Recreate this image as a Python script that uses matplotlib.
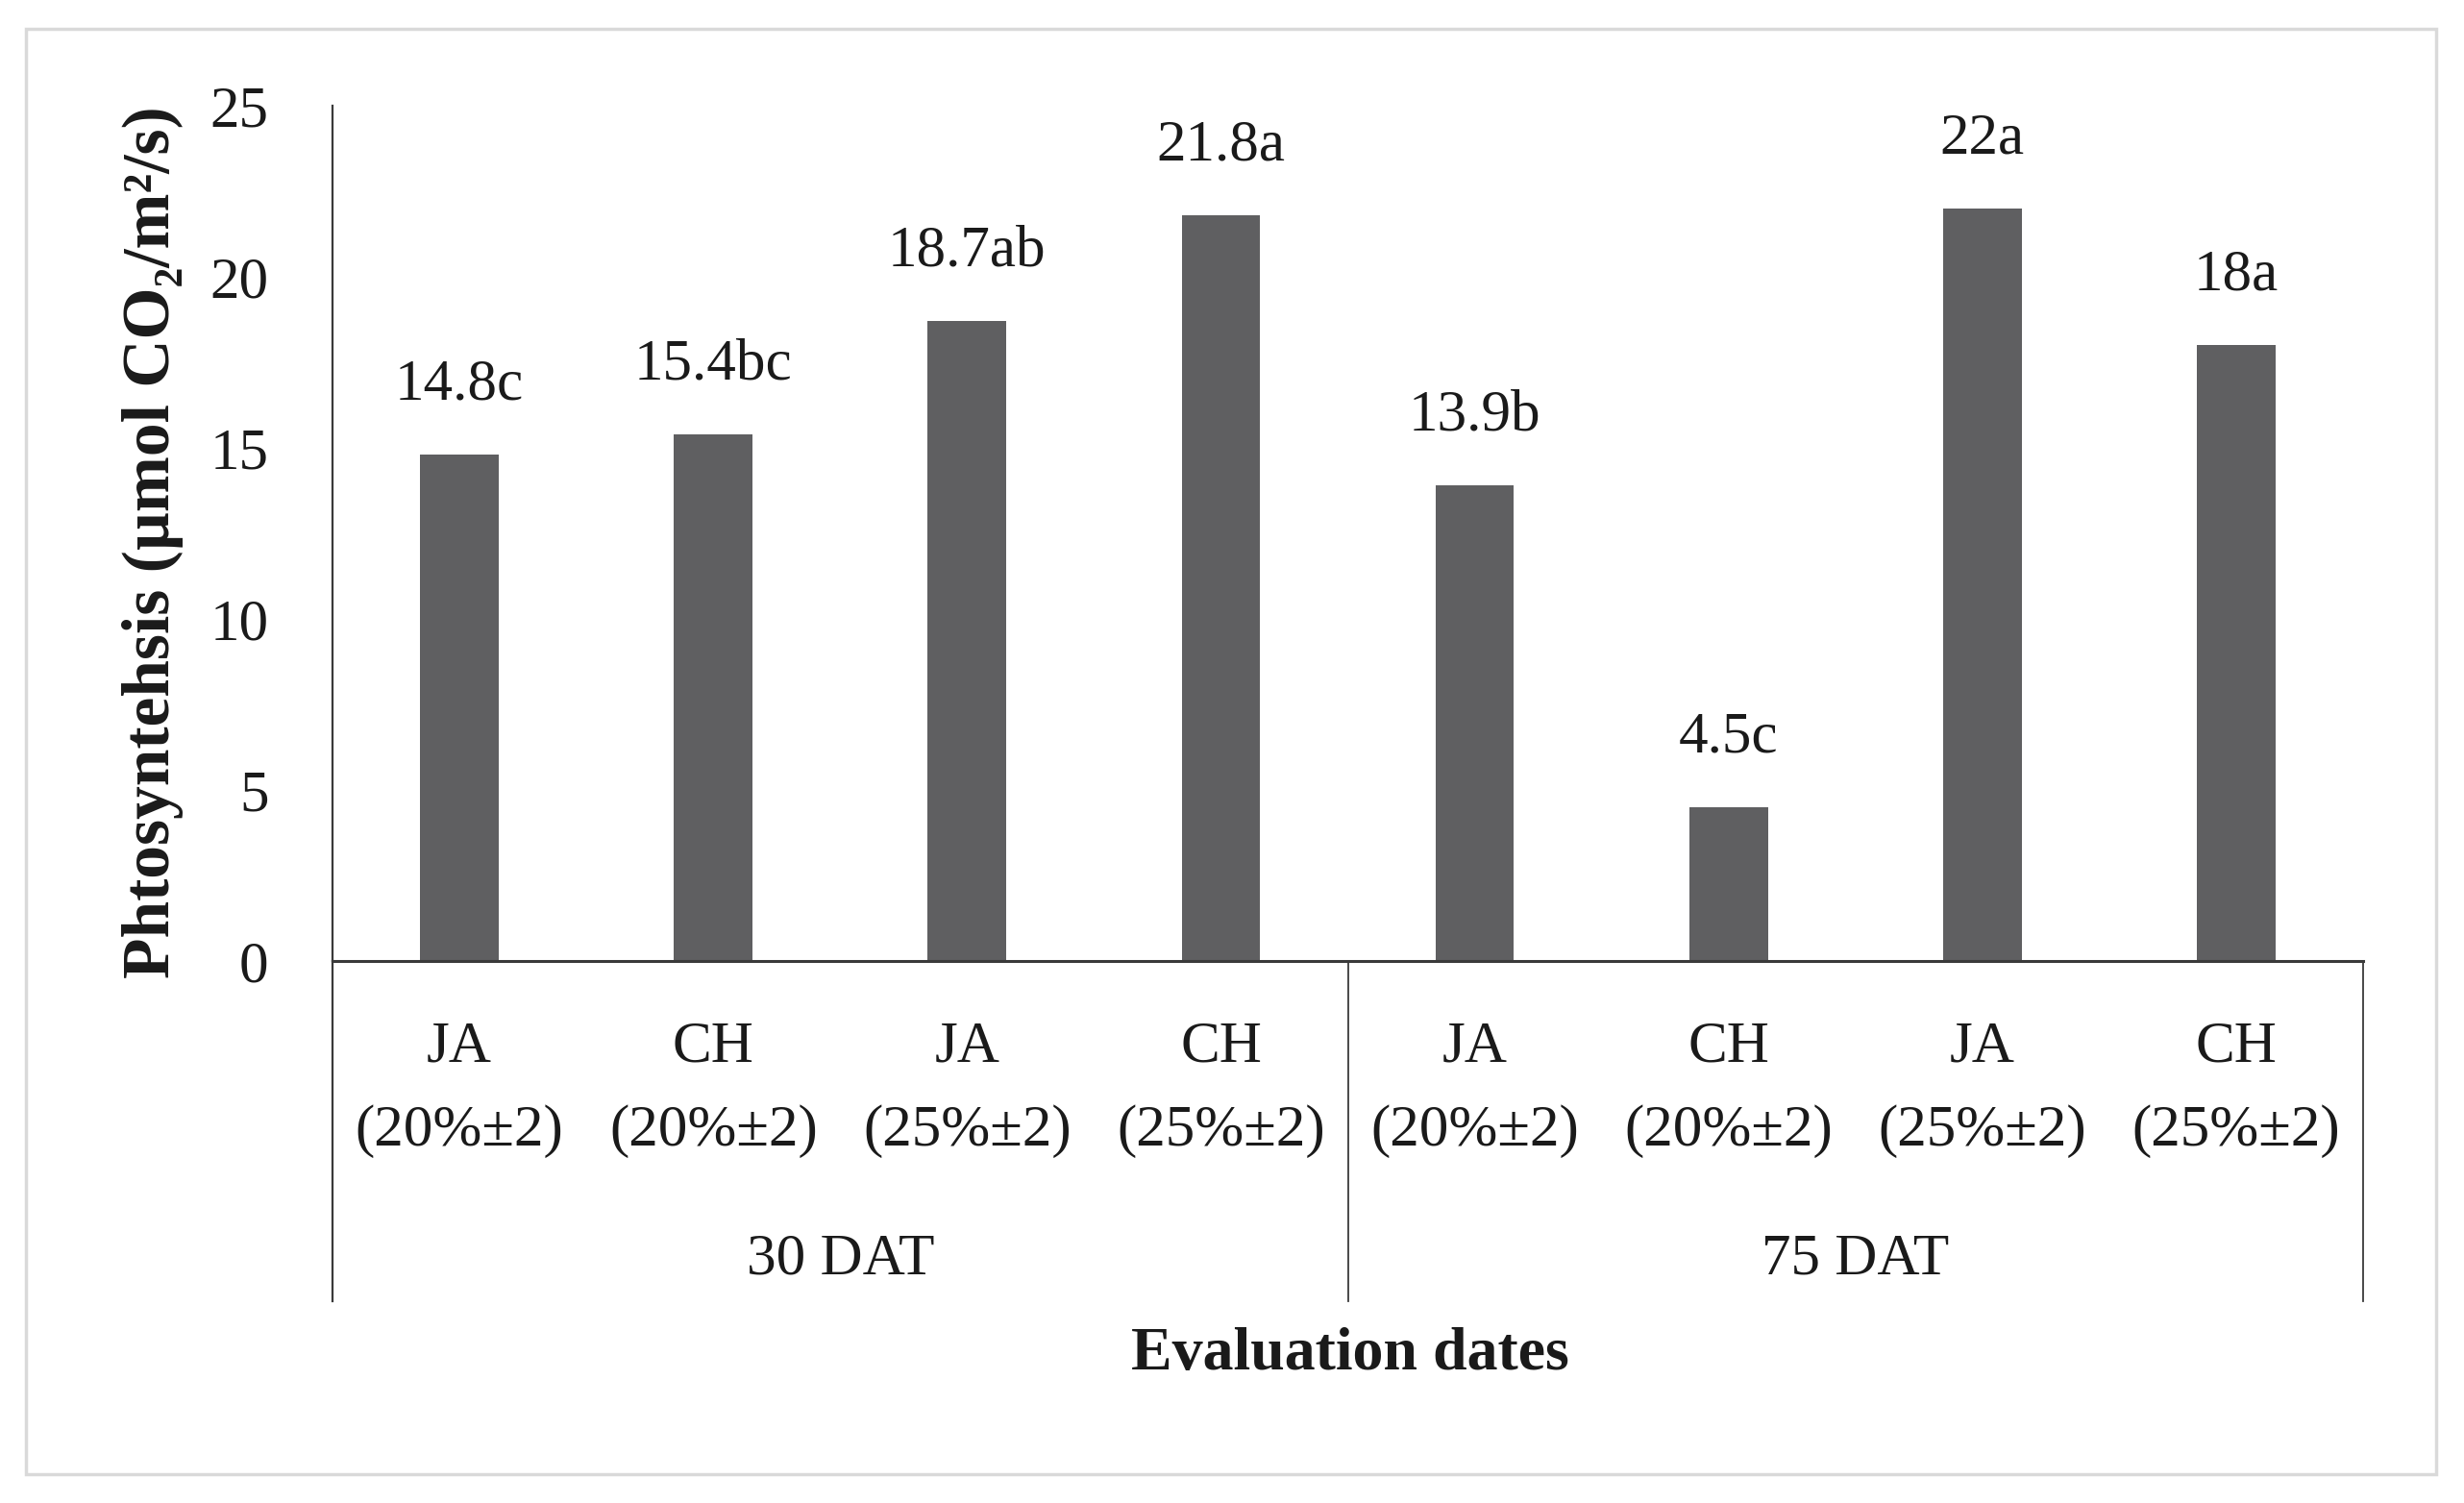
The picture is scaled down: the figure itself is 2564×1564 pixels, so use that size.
import matplotlib
matplotlib.use("Agg")
import matplotlib.pyplot as plt
from matplotlib.patches import Rectangle
from matplotlib.transforms import blended_transform_factory

plt.rcParams["font.family"] = ["Liberation Serif", "DejaVu Serif"]

# data
treatments = ["JA", "CH", "JA", "CH", "JA", "CH", "JA", "CH"]
doses = ["(20%±2)", "(20%±2)", "(25%±2)", "(25%±2)",
         "(20%±2)", "(20%±2)", "(25%±2)", "(25%±2)"]
dates = ["30 DAT", "75 DAT"]
values = [14.8, 15.4, 18.7, 21.8, 13.9, 4.5, 22, 18]
letters = ["c", "bc", "ab", "a", "b", "c", "a", "a"]
yticks = [0, 5, 10, 15, 20, 25]

BAR = "#5f5f61"
LINE = "#3a3a3a"
FS = 44

fig = plt.figure(figsize=(25.64, 15.64), dpi=100)
fig.patch.set_facecolor("white")
fig.patches.append(Rectangle((0.0105, 0.019), 0.978, 0.962, transform=fig.transFigure,
                             fill=False, edgecolor="#d9d9d9", linewidth=2.5))

ax = fig.add_axes([0.135, 0.3606, 0.824, 0.5691])
x = list(range(len(values)))
ax.bar(x, values, width=0.31, color=BAR, zorder=2)

for xi, v, l in zip(x, values, letters):
    lab = f"{v:g}{l}"
    ax.annotate(lab, (xi, v), xytext=(0, 52), textcoords="offset points",
                ha="center", va="center", fontsize=FS, color="#1a1a1a")

ax.set_xlim(-0.5, 7.5)
ax.set_ylim(0, 25)
ax.set_yticks(yticks)
ax.set_yticklabels([str(t) for t in yticks], fontsize=FS, color="#1a1a1a")
ax.tick_params(axis="y", length=0, pad=48)
ax.set_xticks([])

for s in ["top", "right"]:
    ax.spines[s].set_visible(False)
ax.spines["left"].set_linewidth(1.6)
ax.spines["left"].set_color(LINE)
ax.spines["bottom"].set_linewidth(2.2)
ax.spines["bottom"].set_color(LINE)

# group separators below the axis
tr = blended_transform_factory(ax.transData, ax.transAxes)
ax.plot([-0.5, -0.5], [-0.398, 0], transform=tr, color=LINE, lw=1.6, clip_on=False)
for sx in [3.5, 7.5]:
    ax.plot([sx, sx], [-0.398, 0], transform=tr, color=LINE, lw=1.3, clip_on=False)

for xi, t, d in zip(x, treatments, doses):
    ax.text(xi, -0.101, t, transform=tr, ha="center", va="center", fontsize=FS, color="#1a1a1a")
    ax.text(xi, -0.199, d, transform=tr, ha="center", va="center", fontsize=FS, color="#1a1a1a")

for gi, g in enumerate(dates):
    ax.text(1.5 + 4 * gi, -0.349, g, transform=tr, ha="center", va="center",
            fontsize=FS, color="#1a1a1a")

ax.text(0.501, -0.461, "Evaluation dates", transform=ax.transAxes, ha="center", va="center",
        fontsize=46, fontweight="bold", color="#1a1a1a")
ax.text(-0.0885, 0.49, "Phtosyntehsis (µmol CO₂/m²/s)", transform=ax.transAxes,
        ha="center", va="center", rotation=90, fontsize=50, fontweight="bold", color="#1a1a1a")

fig.savefig("out.png", dpi=100, facecolor="white")
